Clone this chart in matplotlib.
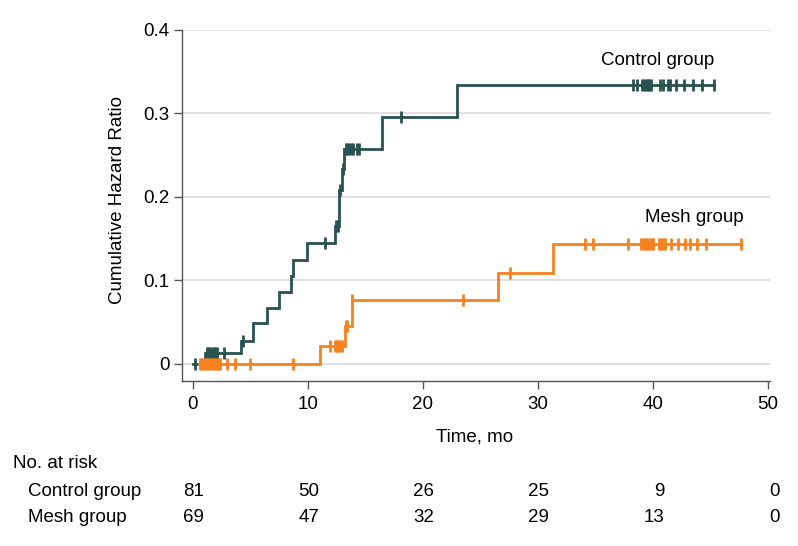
import numpy as np
import matplotlib
matplotlib.use("Agg")
import matplotlib.pyplot as plt
import matplotlib.transforms as mtransforms

plt.rcParams['font.family'] = ['Liberation Sans', 'DejaVu Sans']

# ---- data ----
ctrl_times = [0.0, 1.1, 4.2, 5.2, 6.45, 7.5, 8.5, 8.75, 9.95, 12.35, 12.7, 12.95, 13.15, 16.45, 23.0]
ctrl_haz = [0.0, 0.0135, 0.028, 0.049, 0.067, 0.086, 0.105, 0.125, 0.145, 0.165, 0.208, 0.233, 0.258, 0.296, 0.334]
ctrl_end = 45.3
ctrl_cens = [0.17, 1.2, 1.35, 1.5, 1.65, 1.8, 1.95, 2.1, 2.7, 4.4, 11.5, 12.45, 12.6, 12.78, 13.02,
             13.3, 13.45, 13.6, 13.75, 13.9, 14.3, 14.45, 18.1,
             38.3, 38.6, 39.1, 39.25, 39.4, 39.55, 39.7, 39.85, 40.6, 40.9, 41.3, 41.5, 42.0, 42.7,
             43.5, 44.3, 45.3]

mesh_times = [0.55, 11.05, 13.2, 13.8, 26.55, 31.3]
mesh_haz = [0.0, 0.021, 0.0455, 0.0766, 0.109, 0.1437]
mesh_end = 47.7
mesh_cens = [0.6, 0.75, 0.9, 1.05, 1.2, 1.35, 1.5, 1.65, 1.8, 1.95, 2.1, 2.25, 2.4, 2.95, 3.65,
             4.97, 8.75, 11.9, 12.35, 12.5, 12.65, 12.8, 12.95, 13.3, 13.45, 13.85, 23.5, 27.6,
             34.1, 34.8, 37.8, 39.0, 39.15, 39.3, 39.45, 39.6, 39.75, 39.9, 40.05, 40.5, 40.65,
             40.8, 40.95, 41.1, 41.6, 42.2, 42.8, 43.2, 43.8, 44.6, 47.7]

risk_times = [0, 10, 20, 30, 40, 50]
risk_ctrl = [81, 50, 26, 25, 9, 0]
risk_mesh = [69, 47, 32, 29, 13, 0]
groups = ['Control group', 'Mesh group']

x_ticks = [0, 10, 20, 30, 40, 50]
y_ticks = [0, 0.1, 0.2, 0.3, 0.4]
y_ticklabels = ['0', '0.1', '0.2', '0.3', '0.4']

c_ctrl = '#28524f'
c_mesh = '#f5821f'
FS = 13.5

W, H = 798, 546
fig = plt.figure(figsize=(W / 100, H / 100), dpi=100)
ax = fig.add_axes([182 / W, 1 - 381 / H, (770 - 182) / W, (381 - 30) / H])

def draw(times, haz, end, cens, color):
    xs = list(times) + [end]
    ys = list(haz) + [haz[-1]]
    ax.step(xs, ys, where='post', color=color, lw=2.0, zorder=3, solid_joinstyle='miter')
    idx = np.searchsorted(np.array(times), np.array(cens), side='right') - 1
    idx = np.clip(idx, 0, len(haz) - 1)
    cy = np.array(haz)[idx]
    ax.plot(cens, cy, ls='none', marker='|', ms=9, mew=2.0, color=color, zorder=4)

draw(ctrl_times, ctrl_haz, ctrl_end, ctrl_cens, c_ctrl)
draw(mesh_times, mesh_haz, mesh_end, mesh_cens, c_mesh)

ax.set_xlim(-0.94, 50.19)
ax.set_ylim(-0.0204, 0.4)
ax.set_xticks(x_ticks)
ax.set_yticks(y_ticks)
ax.set_yticklabels(y_ticklabels)
ax.grid(axis='y', color='#d9d9d9', lw=1.1, zorder=0)
ax.set_axisbelow(True)
for s in ['top', 'right']:
    ax.spines[s].set_visible(False)
for s in ['left', 'bottom']:
    ax.spines[s].set_color('#555555')
    ax.spines[s].set_linewidth(1.0)
ax.tick_params(axis='both', colors='#555555', labelcolor='black', length=6, width=1.0, labelsize=FS)
ax.tick_params(axis='y', pad=3)
ax.tick_params(axis='x', pad=5)

ax.text(40.4, 0.364, groups[0], ha='center', va='center', fontsize=FS)
ax.text(43.6, 0.175, groups[1], ha='center', va='center', fontsize=FS)

fig.text(118 / W, 1 - 200 / H, 'Cumulative Hazard Ratio', rotation=90, ha='center', va='center', fontsize=FS)
fig.text(475 / W, 1 - 437 / H, 'Time, mo', ha='center', va='center', fontsize=FS)

fig.text(13 / W, 1 - 463 / H, 'No. at risk', ha='left', va='center', fontsize=FS)
trans = mtransforms.blended_transform_factory(ax.transData, fig.transFigure)
for row, (name, vals) in enumerate(zip(groups, [risk_ctrl, risk_mesh])):
    yy = 1 - (492 + 25 * row) / H
    fig.text(28 / W, yy, name, ha='left', va='center', fontsize=FS)
    for t, v in zip(risk_times, vals):
        ax.text(t + 1.0, yy, str(v), transform=trans, ha='right', va='center', fontsize=FS)

fig.savefig('out.png', dpi=100)
